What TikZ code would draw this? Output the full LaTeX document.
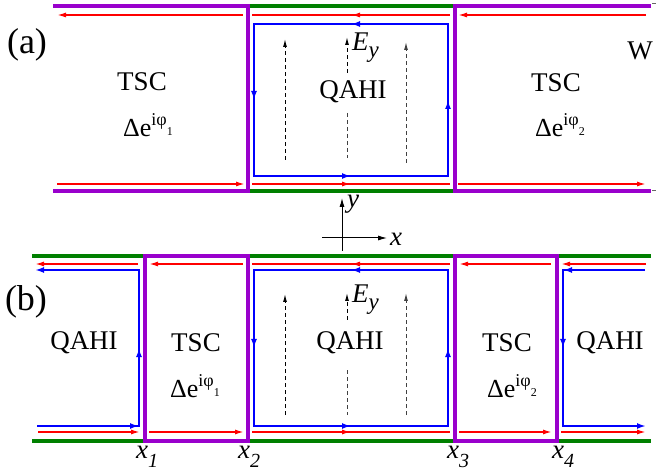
\documentclass[tikz,border=0pt]{standalone}
\usepackage{fontspec}
\setmainfont{Liberation Serif}
\newfontfamily\tms{Liberation Serif}
\usetikzlibrary{arrows.meta,decorations.markings}
\definecolor{purp}{RGB}{153,0,204}
\definecolor{grn}{RGB}{0,128,0}
\newcommand\dphase[1]{{\fontsize{26}{28}\selectfont Δe}\raisebox{11pt}{\fontsize{18}{20}\selectfont iφ}\raisebox{1pt}{\fontsize{12}{13}\selectfont #1}}
\newcommand\Efld{\textit{E}\raisebox{-7pt}{\fontsize{23}{24}\selectfont\textit{y}}}
\newcommand\xlab[1]{\textit{x}\raisebox{-9pt}{\fontsize{20}{21}\selectfont\textit{#1}}}
\begin{document}
\begin{tikzpicture}[x=1pt,y=-1pt,
  purpl/.style={draw=purp,line width=4pt,line join=miter},
  grnl/.style={draw=grn,line width=4pt},
  redl/.style={draw=red,line width=1.5pt},
  bluel/.style={draw=blue,line width=2pt},
  rtip/.style={-{Latex[length=9pt,width=5pt]}},
  btip/.style={-{Latex[length=9pt,width=6pt]}},
  rmid/.style={postaction={decorate},decoration={markings,mark=at position 0.5 with {\arrow{Latex[length=9pt,width=5pt]}}}},
  bmid/.style={postaction={decorate},decoration={markings,mark=at position 0.5 with {\arrow{Latex[length=9pt,width=6pt]}}}},
  efield/.style={dash pattern=on 4pt off 3pt,line width=1pt},
  etip/.style={-{Latex[length=8pt,width=4pt]}},
  lab/.style={font=\tms\fontsize{27}{30}\selectfont,inner sep=0pt},
  ital/.style={font=\tms\fontsize{27}{30}\selectfont\itshape,inner sep=0pt},
  panel/.style={font=\tms\fontsize{36}{40}\selectfont,inner sep=0pt},
  axis/.style={line width=1pt,-{Latex[length=9pt,width=5pt]}}]
\useasboundingbox (0,0) rectangle (656,470);

% ================= panel (a) =================
\draw[grnl] (248,6) -- (455,6);
\draw[grnl] (248,191) -- (455,191);
\draw[purpl] (53,6) -- (248,6) -- (248,191) -- (53,191);
\draw[purpl] (651,6) -- (455,6) -- (455,191) -- (651,191);
\draw[black!60,line width=1pt] (652,4) -- (656,4);
\draw[black!60,line width=1pt] (652,191) -- (656,191);

% red edge channels
\draw[redl,rtip] (243,15) -- (57,15);
\draw[redl,rtip] (57,184) -- (245,184);
\draw[redl,rmid] (450,15) -- (252,15);
\draw[redl,rmid] (252,184) -- (450,184);
\draw[redl,rtip] (646,15) -- (458,15);
\draw[redl,rtip] (458,184) -- (646,184);

% blue loop
\draw[bluel] (448,24) -- (254,24) -- (254,176) -- (448,176) -- cycle;
\draw[bluel,bmid] (448,24) -- (254,24);
\draw[bluel,bmid] (254,24) -- (254,176);
\draw[bluel,bmid] (254,176) -- (448,176);
\draw[bluel,bmid] (448,176) -- (448,24);

% electric field
\draw[efield,etip] (285,160) -- (285,39);
\draw[efield,etip] (347,73) -- (347,37);
\draw[efield,black!75] (347,113) -- (347,158);
\draw[efield,etip,black!75] (406,163) -- (406,42);

\node[panel] (la) at (27,45) {(a)};
\node[lab] (tsc1a) at (142,82) {TSC};
\node[lab,anchor=base west] (ph1a) at (123,137) {\dphase{1}};
\node[lab] (qahia) at (353,92) {QAHI};
\node[lab,anchor=base west] (eya) at (352,51) {\Efld};
\node[lab] (tsc2a) at (556,83) {TSC};
\node[lab,anchor=base west] (ph2a) at (535,137) {\dphase{2}};
\node[lab] (wa) at (640,51) {W};

% axes
\coordinate (o) at (342,238);
\draw[axis] (342,251) -- (342,198);
\draw[axis] (322,238) -- (387,238);
\node[ital] (ylab) at (353,204) {y};
\node[ital] (xlab) at (396,239) {x};

% ================= panel (b) =================
\draw[grnl] (32,256) -- (145,256);
\draw[grnl] (248,256) -- (455,256);
\draw[grnl] (557,256) -- (651,256);
\draw[grnl] (32,441) -- (145,441);
\draw[grnl] (248,441) -- (455,441);
\draw[grnl] (557,441) -- (651,441);
\draw[purpl] (145,256) rectangle (248,441);
\draw[purpl] (455,256) rectangle (557,441);

% red channels
\draw[redl,rtip] (138,264) -- (35,264);
\draw[redl,rtip] (243,264) -- (149,264);
\draw[redl,rmid] (450,264) -- (252,264);
\draw[redl,rtip] (551,264) -- (459,264);
\draw[redl,rtip] (646,264) -- (561,264);
\draw[redl,rtip] (38,432) -- (140,432);
\draw[redl,rtip] (149,432) -- (244,432);
\draw[redl,rmid] (252,432) -- (450,432);
\draw[redl,rtip] (459,432) -- (552,432);
\draw[redl,rtip] (561,432) -- (646,432);

% blue channels
\draw[bluel,btip] (37,426) -- (139,426) -- (139,270) -- (35,270);
\draw[bluel,btip] (125,426) -- (139,426);
\draw[bluel,bmid] (139,426) -- (139,270);
\draw[bluel] (448,270) -- (254,270) -- (254,426) -- (448,426) -- cycle;
\draw[bluel,bmid] (448,270) -- (254,270);
\draw[bluel,bmid] (254,270) -- (254,426);
\draw[bluel,bmid] (254,426) -- (448,426);
\draw[bluel,bmid] (448,426) -- (448,270);
\draw[bluel,btip] (645,270) -- (563,270) -- (563,426) -- (646,426);
\draw[bluel,btip] (577,270) -- (563,270);
\draw[bluel,bmid] (563,270) -- (563,426);

% electric field
\draw[efield,etip] (285,415) -- (285,294);
\draw[efield,etip] (347,320) -- (347,293);
\draw[efield,black!75] (347,370) -- (347,415);
\draw[efield,etip,black!75] (406,415) -- (406,293);

\node[panel] (lb) at (26,302) {(b)};
\node[lab] (qahil) at (84,343) {QAHI};
\node[lab] (tsc1b) at (196,343) {TSC};
\node[lab,anchor=base west] (ph1b) at (170,397) {\dphase{1}};
\node[lab] (qahib) at (350,343) {QAHI};
\node[lab,anchor=base west] (eyb) at (352,303) {\Efld};
\node[lab] (tsc2b) at (507,343) {TSC};
\node[lab,anchor=base west] (ph2b) at (487,397) {\dphase{2}};
\node[lab] (qahir) at (610,343) {QAHI};

\node[lab,anchor=base west] (x1) at (136,458) {\xlab{1}};
\node[lab,anchor=base west] (x2) at (238,458) {\xlab{2}};
\node[lab,anchor=base west] (x3) at (447,458) {\xlab{3}};
\node[lab,anchor=base west] (x4) at (552,458) {\xlab{4}};
\end{tikzpicture}
\end{document}
